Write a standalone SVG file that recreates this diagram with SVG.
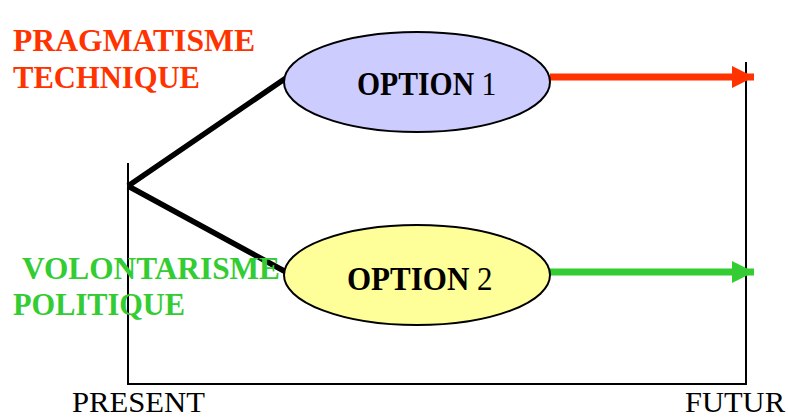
<svg xmlns="http://www.w3.org/2000/svg" width="788" height="417" viewBox="0 0 788 417">
<style>
.t{font-family:"Liberation Serif","Times New Roman",serif}
.b{font-weight:bold}
.node{stroke:#000;stroke-width:2}
</style>
<defs>
<marker id="ar" viewBox="0 0 10 10" refX="10" refY="5" markerWidth="3.2" markerHeight="3.2" orient="auto" markerUnits="strokeWidth"><path d="M0,0L10,5L0,10z" fill="#ff3300"/></marker>
<marker id="ag" viewBox="0 0 10 10" refX="10" refY="5" markerWidth="3.2" markerHeight="3.2" orient="auto" markerUnits="strokeWidth"><path d="M0,0L10,5L0,10z" fill="#33cc33"/></marker>
</defs>
<rect width="788" height="417" fill="#fff"/>
<g id="axes" fill="none" stroke="#000" stroke-width="2">
<path d="M128,163V384H746V62"/>
</g>
<g id="connectors">
<path d="M128,186L286,78M128,186L286,272" stroke="#000" stroke-width="5.5" fill="none"/>
<line x1="550" y1="77" x2="754" y2="77" stroke="#ff3300" stroke-width="7" marker-end="url(#ar)"/>
<line x1="550" y1="272" x2="754" y2="272" stroke="#33cc33" stroke-width="7" marker-end="url(#ag)"/>
</g>
<g id="option1">
<ellipse class="node" cx="417" cy="82" rx="133" ry="50" fill="#ccccff"/>
<text class="t" transform="translate(357,95) scale(0.9,1)" font-size="33"><tspan class="b">OPTION</tspan> 1</text>
</g>
<g id="option2">
<ellipse class="node" cx="417" cy="275" rx="133" ry="50" fill="#ffff99"/>
<text class="t" transform="translate(347,290) scale(0.94,1)" font-size="33"><tspan class="b">OPTION</tspan> 2</text>
</g>
<g id="labels" class="t b" font-size="32">
<text x="13" y="51" fill="#ff3300" textLength="242" lengthAdjust="spacingAndGlyphs">PRAGMATISME</text>
<text x="13" y="88" fill="#ff3300" textLength="187" lengthAdjust="spacingAndGlyphs">TECHNIQUE</text>
<text x="22" y="279" fill="#33cc33" textLength="258" lengthAdjust="spacingAndGlyphs">VOLONTARISME</text>
<text x="13" y="315" fill="#33cc33" textLength="172" lengthAdjust="spacingAndGlyphs">POLITIQUE</text>
</g>
<g id="axislabels" class="t" font-size="30">
<text x="72" y="412" textLength="133" lengthAdjust="spacingAndGlyphs">PRESENT</text>
<text x="685" y="412" textLength="100" lengthAdjust="spacingAndGlyphs">FUTUR</text>
</g>
</svg>
